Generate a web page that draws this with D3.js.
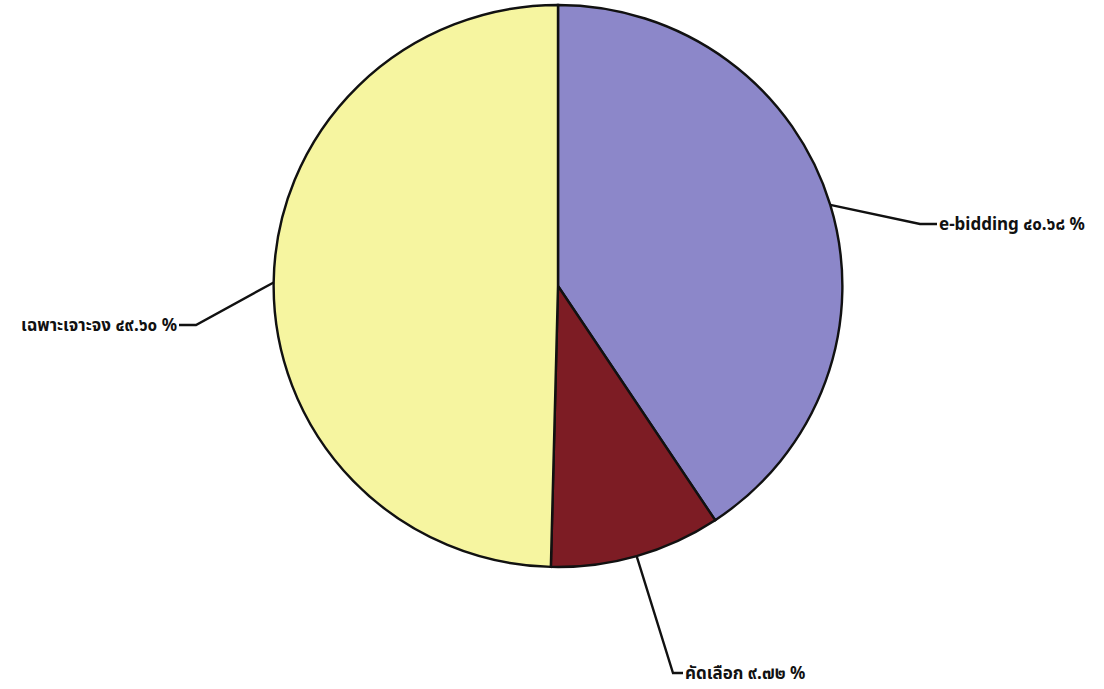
<!DOCTYPE html>
<html>
<head>
<meta charset="utf-8">
<script src="https://cdn.jsdelivr.net/npm/d3@7/dist/d3.min.js"></script>
<style>
html,body{margin:0;padding:0;background:#fff;}
svg{display:block;}
text{font-family:"Noto Sans","Noto Sans Thai",Tahoma,sans-serif;font-weight:700;font-size:17px;fill:#111;}
</style>
</head>
<body>
<svg id="chart" width="1104" height="689"></svg>
<script>
const categories = ["e-bidding", "คัดเลือก", "เฉพาะเจาะจง"];
const values = [40.68, 9.72, 49.60];
const valueLabels = ["๔๐.๖๘ %", "๙.๗๒ %", "๔๙.๖๐ %"];
const colors = ["#8c87c9", "#7d1c24", "#f6f5a0"];

const W = 1104, H = 689;
const cx = 558, cy = 286, r = 281;
const svg = d3.select("#chart");
const g = svg.append("g").attr("transform", `translate(${cx},${cy}) scale(1.012,1)`);

const pie = d3.pie().sort(null).value(d => d)(values);
const arc = d3.arc().innerRadius(0).outerRadius(r);

g.selectAll("path.slice").data(pie).join("path")
  .attr("class", "slice")
  .attr("d", arc)
  .attr("fill", (d, i) => colors[i])
  .attr("stroke", "#111")
  .attr("stroke-width", 2.4);

// leader lines: elbow position relative to pie centre (layout only)
const elbows = [
  {dx: 362, dy: -62, hx: 17, anchor: "start"},
  {dx: 115, dy: 387, hx: 10, anchor: "start"},
  {dx: -362, dy: 39, hx: -17, anchor: "end"}
];
const lbl = svg.append("g");
pie.forEach((d, i) => {
  const a = (d.startAngle + d.endAngle) / 2;
  const sx = cx + Math.sin(a) * r * 1.012, sy = cy - Math.cos(a) * r;
  const e = elbows[i];
  const ex = cx + e.dx, ey = cy + e.dy;
  const tx = ex + e.hx;
  lbl.append("polyline")
    .attr("points", `${sx},${sy} ${ex},${ey} ${tx},${ey}`)
    .attr("fill", "none").attr("stroke", "#111").attr("stroke-width", 2.4);
  lbl.append("text")
    .attr("x", tx + (e.anchor === "start" ? 2 : -2))
    .attr("y", ey)
    .attr("dy", "0.35em")
    .attr("text-anchor", e.anchor)
    .text(categories[i] + " " + valueLabels[i]);
});
</script>
</body>
</html>
